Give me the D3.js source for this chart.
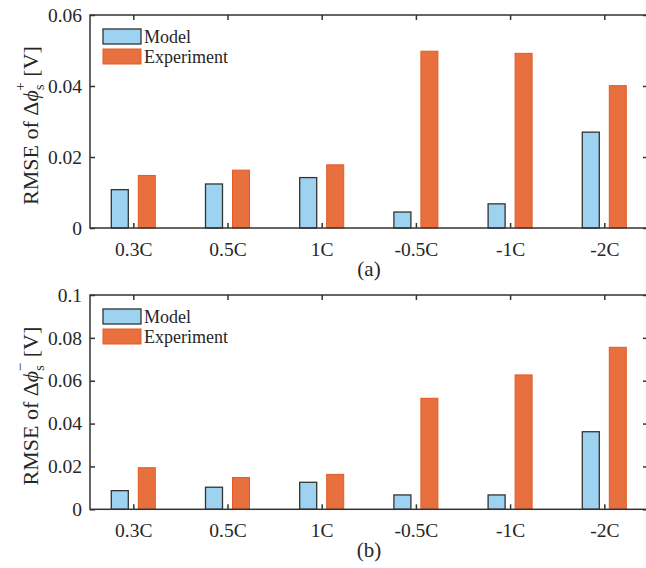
<!DOCTYPE html>
<html><head><meta charset="utf-8">
<script src="https://cdn.jsdelivr.net/npm/d3@7"></script>
<style>body{margin:0;background:#fff}svg{display:block}text{font-family:"Liberation Serif","Times New Roman",serif;fill:#262626}</style>
</head><body>
<svg id="c" width="646" height="568"></svg>
<script>
const categories = ["0.3C","0.5C","1C","-0.5C","-1C","-2C"];
const seriesNames = ["Model","Experiment"];
const modelA = [0.0108,0.0124,0.0142,0.0045,0.0068,0.0270];
const expA   = [0.0148,0.0163,0.0178,0.0498,0.0492,0.0401];
const modelB = [0.0087,0.0103,0.0126,0.0067,0.0067,0.0362];
const expB   = [0.0194,0.0148,0.0163,0.0518,0.0627,0.0756];
const ticksA = [0,0.02,0.04,0.06];
const ticksB = [0,0.02,0.04,0.06,0.08,0.1];

const svg = d3.select("#c");
const FONT = '"Liberation Serif","Times New Roman",serif';
const colors = ["#9dd3f0","#e8703f"];
const strokes = ["#333333","#e35a24"];
const L = 90, R = 648;
const x = d3.scaleLinear().domain([1,6]).range([133.3,604.3]);
const barW = 17, off = 13.5;

function panel(top, bottom, yMax, ticks, model, exp, sup, tag) {
  const y = d3.scaleLinear().domain([0,yMax]).range([bottom, top]);
  const g = svg.append("g");
  const data = [model, exp];
  data.forEach((arr, s) => {
    g.selectAll(null).data(arr).enter().append("rect")
      .attr("x", (d,i) => x(i+1) + (s===0 ? -off : off) - barW/2)
      .attr("width", barW)
      .attr("y", d => y(d))
      .attr("height", d => y(0) - y(d))
      .attr("fill", colors[s])
      .attr("stroke", strokes[s])
      .attr("stroke-width", s===0 ? 1.3 : 1);
  });
  const fmt = d => d===0 ? "0" : (d===0.1 ? "0.1" : d3.format(".2f")(d));
  const yAxis = d3.axisLeft(y).tickValues(ticks).tickSize(-5).tickPadding(8).tickFormat(fmt);
  const ya = g.append("g").attr("transform",`translate(${L},0)`).call(yAxis);
  const yAxisR = d3.axisRight(y).tickValues(ticks).tickSize(-5).tickFormat("");
  const yr = g.append("g").attr("transform",`translate(${R},0)`).call(yAxisR);
  const xAxis = d3.axisBottom(x).tickValues([1,2,3,4,5,6]).tickSize(-5).tickPadding(14)
      .tickFormat((d) => categories[d-1]);
  const xa = g.append("g").attr("transform",`translate(0,${bottom})`).call(xAxis);
  const xAxisT = d3.axisTop(x).tickValues([1,2,3,4,5,6]).tickSize(-5).tickFormat("");
  const xt = g.append("g").attr("transform",`translate(0,${top})`).call(xAxisT);
  [ya,yr,xa,xt].forEach(a => {
    a.attr("font-family", FONT).attr("font-size", 19.5);
    a.select(".domain").remove();
    a.selectAll(".tick line").attr("stroke","#333").attr("stroke-width",1.5);
    a.selectAll("text").attr("fill","#262626").style("font-family",FONT).style("font-size","19.5px");
  });
  g.append("rect").attr("x",L).attr("y",top).attr("width",R-L).attr("height",bottom-top)
    .attr("fill","none").attr("stroke","#333").attr("stroke-width",1.5);
  // legend
  seriesNames.forEach((n,s) => {
    const ly = top + 14 + s*20;
    g.append("rect").attr("x",103).attr("y",ly).attr("width",38).attr("height",15)
      .attr("fill",colors[s]).attr("stroke",strokes[s]).attr("stroke-width", s===0?1.3:1);
    g.append("text").attr("x",144).attr("y",ly+14).style("font-size","18px").text(n);
  });
  // y label
  const cy = (top+bottom)/2 + 4;
  const t = g.append("text").attr("transform",`translate(38,${cy}) rotate(-90)`)
    .attr("text-anchor","middle").style("font-size","22px");
  t.append("tspan").text("RMSE of Δ");
  t.append("tspan").style("font-style","italic").text("ϕ");
  t.append("tspan").attr("dy",6).style("font-size","14px").text("s");
  t.append("tspan").attr("dx",-6).attr("dy",-19).style("font-size","15px").text(sup);
  t.append("tspan").attr("dy",13).text(" [V]");
  // tag
  g.append("text").attr("x",(L+R)/2).attr("y",bottom+48).attr("text-anchor","middle")
    .style("font-size","21px").text(tag);
}
panel(15, 228, 0.06, ticksA, modelA, expA, "+", "(a)");
panel(295, 509.3, 0.1, ticksB, modelB, expB, "−", "(b)");
</script>
</body></html>
